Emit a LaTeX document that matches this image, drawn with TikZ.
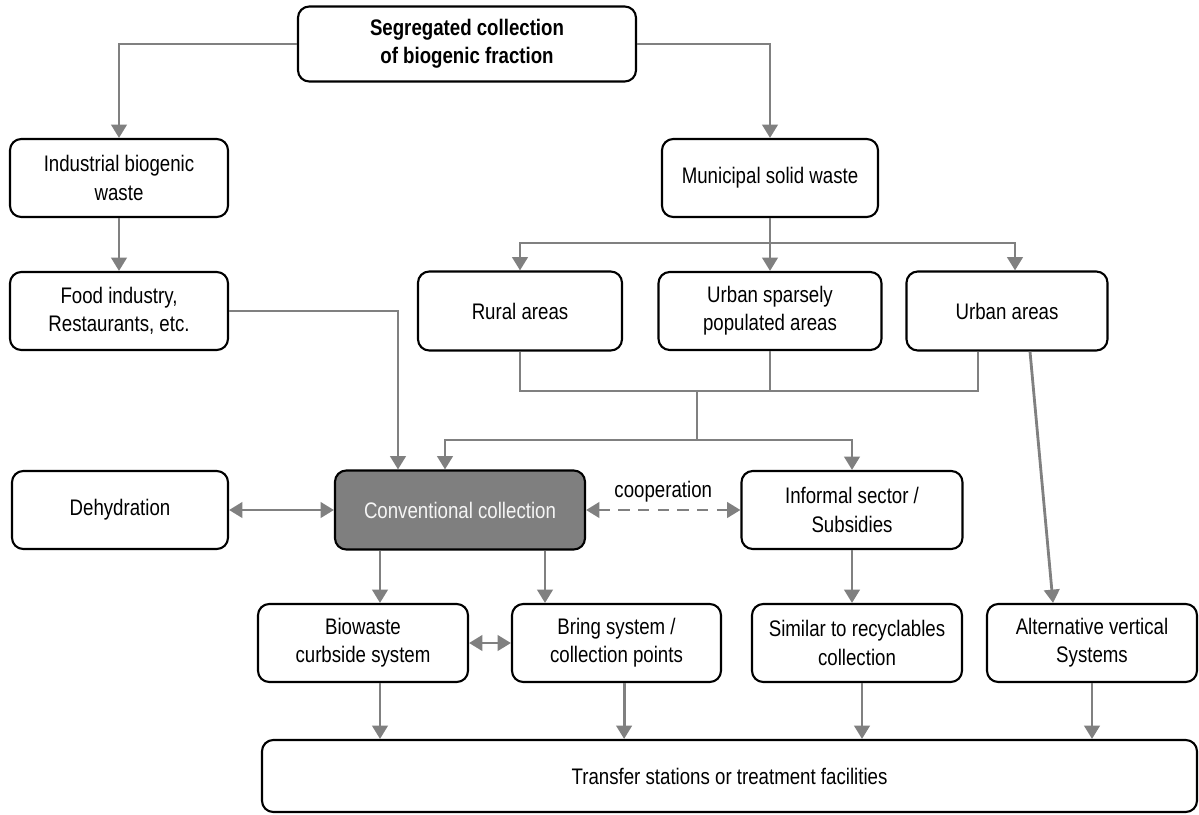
\documentclass[tikz,border=0pt]{standalone}
\usepackage{fontspec}
\setmainfont{Liberation Sans}[FakeStretch=0.83]
\usepackage{xcolor}
\definecolor{linegray}{HTML}{808080}
\definecolor{boxfill}{HTML}{7F7F7F}
\usepackage{tikz}
\usetikzlibrary{arrows.meta, positioning, calc}

\begin{document}
\begin{tikzpicture}[every node/.style={font=\fontsize{16}{20}\selectfont}]
\tikzstyle{wbox}=[rectangle, rounded corners=8pt, draw=black, line width=1.5pt,
  fill=white, align=center, inner sep=2pt]
\tikzstyle{line}=[draw=linegray, line width=2pt]
\tikzstyle{arr}=[line, -{Triangle[width=11pt,length=9.5pt]}]
\tikzstyle{darr}=[line, {Triangle[width=11pt,length=9.5pt]}-{Triangle[width=11pt,length=9.5pt]}]
\useasboundingbox (0,0) rectangle (29.975,-20.35);
% boxes
\node[wbox, minimum width=8.45cm, minimum height=1.875cm] (seg) at (11.675,-1.1)
  {\bfseries Segregated collection\\\bfseries of biogenic fraction};
\node[wbox, minimum width=5.45cm, minimum height=1.95cm] (ind) at (2.975,-4.45)
  {Industrial biogenic\\waste};
\node[wbox, minimum width=5.45cm, minimum height=1.95cm] (food) at (2.975,-7.775)
  {Food industry,\\Restaurants, etc.};
\node[wbox, minimum width=5.4cm, minimum height=1.95cm] (msw) at (19.25,-4.45)
  {Municipal solid waste};
\node[wbox, minimum width=5.1cm, minimum height=1.975cm] (rural) at (13.0,-7.775)
  {Rural areas};
\node[wbox, minimum width=5.575cm, minimum height=1.95cm] (sparse) at (19.25,-7.775)
  {Urban sparsely\\populated areas};
\node[wbox, minimum width=5.025cm, minimum height=1.975cm] (urban) at (25.175,-7.775)
  {Urban areas};
\node[wbox, minimum width=5.4cm, minimum height=1.95cm] (dehyd) at (3.0,-12.75)
  {Dehydration};
\node[wbox, fill=boxfill, text=white!92!gray, minimum width=6.25cm, minimum height=1.975cm] (conv) at (11.5,-12.75)
  {Conventional collection};
\node[wbox, minimum width=5.525cm, minimum height=1.95cm] (inf) at (21.3,-12.75)
  {Informal sector /\\Subsidies};
\node[wbox, minimum width=5.25cm, minimum height=1.95cm] (bio) at (9.075,-16.075)
  {Biowaste\\curbside system};
\node[wbox, minimum width=5.225cm, minimum height=1.95cm] (bring) at (15.4125,-16.075)
  {Bring system /\\collection points};
\node[wbox, minimum width=5.25cm, minimum height=1.95cm] (sim) at (21.425,-16.075)
  {Similar to recyclables\\collection};
\node[wbox, minimum width=5.25cm, minimum height=1.95cm] (alt) at (27.3,-16.075)
  {Alternative vertical\\Systems};
\node[wbox, minimum width=23.375cm, minimum height=1.8cm] (tr) at (18.2375,-19.4)
  {Transfer stations or treatment facilities};
% top branches
\draw[arr] (seg.west) -| (ind.north);
\draw[arr] (seg.east) -| (msw.north);
\draw[arr] (ind) -- (food);
\draw[arr] (food.east) -| ([xshift=-1.55cm]conv.north);
% municipal split
\coordinate (msplit) at (19.25,-6.075);
\draw[line] (msw.south) -- (msplit);
\draw[arr] (msplit) -| (rural.north);
\draw[arr] (msplit) -- (sparse.north);
\draw[arr] (msplit) -| ([xshift=0.2cm]urban.north);
% merge towards collection
\coordinate (mj) at (17.425,-9.775);
\coordinate (mk) at (17.425,-11.0);
\coordinate (ujoin) at ([xshift=-0.725cm]urban.south);
\draw[line] (rural.south) |- (ujoin |- mj) -- (ujoin);
\draw[line] (sparse.south) -- (sparse.south |- mj);
\draw[line] (mj) -- (mk);
\draw[arr] (mk) -| ([xshift=-0.375cm]conv.north);
\draw[arr] (mk) -| (inf.north);
\draw[arr] ([xshift=0.575cm]urban.south) -- ([xshift=-0.975cm]alt.north);
% middle row
\draw[darr] (dehyd) -- (conv);
\draw[darr, dash pattern=on 8pt off 6pt] (conv) -- node[above=1pt, text=black] {cooperation} (inf);
\draw[arr] ([xshift=-2.0cm]conv.south) -- ([xshift=-2.0cm]conv.south |- bio.north);
\draw[arr] ([xshift=2.125cm]conv.south) -- ([xshift=2.125cm]conv.south |- bring.north);
\draw[darr] (bio) -- (bring);
\draw[arr] (inf.south) -- (inf.south |- sim.north);
% into transfer
\draw[arr] ([xshift=0.425cm]bio.south) -- ([xshift=0.425cm]bio.south |- tr.north);
\draw[arr] ([xshift=0.19cm]bring.south) -- ([xshift=0.19cm]bring.south |- tr.north);
\draw[arr] ([xshift=0.125cm]sim.south) -- ([xshift=0.125cm]sim.south |- tr.north);
\draw[arr] (alt.south) -- (alt.south |- tr.north);
\end{tikzpicture}
\end{document}
